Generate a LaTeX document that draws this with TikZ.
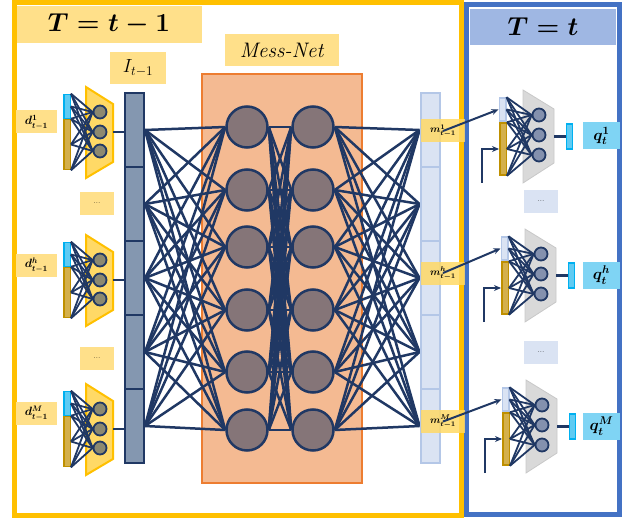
\RequirePackage{fix-cm}
\documentclass[tikz,border=0pt]{standalone}
\usepackage{amsmath}
\usepackage{amssymb}
\usepackage{tikz}
\usetikzlibrary{arrows.meta, positioning, backgrounds}

\definecolor{navy}{HTML}{203864}
\definecolor{framey}{HTML}{FFC000}
\definecolor{frameb}{HTML}{4472C4}
\definecolor{titley}{HTML}{FFE08A}
\definecolor{titleb}{HTML}{9FB7E3}
\definecolor{orangefill}{HTML}{F4BA92}
\definecolor{orangeline}{HTML}{ED7D31}
\definecolor{neurongray}{HTML}{857578}
\definecolor{lbarfill}{HTML}{8497B0}
\definecolor{rbarfill}{HTML}{DAE3F3}
\definecolor{rbarline}{HTML}{B4C7E7}
\definecolor{cyanfill}{HTML}{5FCBF3}
\definecolor{cyanline}{HTML}{00B0F0}
\definecolor{goldfill}{HTML}{D4B04C}
\definecolor{goldline}{HTML}{BF9000}
\definecolor{encyellow}{HTML}{FFD966}
\definecolor{encneuron}{HTML}{8C8970}
\definecolor{encgray}{HTML}{D9D9D9}
\definecolor{encgrayline}{HTML}{C8C8C8}
\definecolor{rneuron}{HTML}{8491AE}
\definecolor{qfill}{HTML}{7FD4F4}

\begin{document}
\begin{tikzpicture}[
    x=1pt, y=-1pt,
    label box/.style={rectangle, inner sep=0pt},
    big neuron/.style={circle, fill=neurongray, draw=navy, line width=2.5pt, minimum size=41pt, inner sep=0pt},
    small neuron/.style={circle, draw=navy, line width=1.8pt, minimum size=13pt, inner sep=0pt},
    bar seg/.style={rectangle, minimum width=19pt, minimum height=74pt, inner sep=0pt, line width=2pt},
    thin bar/.style={rectangle, line width=1.5pt, minimum width=6.5pt, inner sep=0pt},
    link/.style={draw=navy, line width=2.5pt},
    thin link/.style={draw=navy, line width=1.8pt},
    arrow/.style={-{Stealth[length=7pt,width=6pt]}, draw=navy, line width=2pt}
]
\useasboundingbox (0,0) rectangle (639,521);

% frames and titles
\draw[framey, line width=5pt] (14,3) rectangle (461,515);
\draw[frameb, line width=5pt] (466.5,5) rectangle (619.5,514.5);
\node[label box, fill=titley, minimum width=185pt, minimum height=37pt, font=\fontsize{26}{30}\selectfont] (tprev) at (109,24.5) {$\boldsymbol{T=t-1}$};
\node[label box, fill=titleb, minimum width=146pt, minimum height=36pt, font=\fontsize{26}{30}\selectfont] (tnow) at (543,27) {$\boldsymbol{T=t}$};
\node[label box, fill=titley, minimum width=56pt, minimum height=32pt, font=\fontsize{19}{21}\selectfont] (ilab) at (138,68) {$I_{t-1}$};
\node[label box, fill=titley, minimum width=114pt, minimum height=32pt, font=\fontsize{21}{24}\selectfont] (netlab) at (282,50) {\textit{Mess-Net}};

% Mess-Net
\begin{scope}[on background layer]
\draw[fill=orangefill, draw=orangeline, line width=2.5pt] (202,74) rectangle (362,483);
\end{scope}
\foreach \i/\y in {1/127,2/190,3/247,4/310,5/372,6/430} {
  \node[big neuron] (a\i) at (247,\y) {};
  \node[big neuron] (b\i) at (313,\y) {};
}
\foreach \i in {1,...,5} {
  \node[bar seg, fill=lbarfill, draw=navy] (l\i) at (134.5,{56+74*\i}) {};
  \node[bar seg, fill=rbarfill, draw=rbarline] (r\i) at (430,{56+74*\i}) {};
}
\begin{scope}[on background layer]
\foreach \i in {1,...,5} \foreach \j in {1,...,6} {
  \draw[link] (l\i.east) -- (a\j.west);
  \draw[link] (b\j.east) -- (r\i.west);
}
\foreach \i in {1,...,6} \foreach \j in {1,...,6}
  \draw[link] (a\i.east) -- (b\j.west);
\end{scope}

% encoders at T = t-1
\foreach \k/\dy/\ly/\idx/\s in {1/0/122/1/1, 2/148/265/h/3, 3/297/413/M/5} {
  \filldraw[fill=encyellow, draw=framey, line width=2pt] (86,{87+\dy}) -- (113,{104+\dy}) -- (113,{162+\dy}) -- (86,{178+\dy}) -- cycle;
  \node[small neuron, fill=encneuron] (p\k1) at (100,{112+\dy}) {};
  \node[small neuron, fill=encneuron] (p\k2) at (100,{132+\dy}) {};
  \node[small neuron, fill=encneuron] (p\k3) at (100,{151+\dy}) {};
  \node[thin bar, fill=cyanfill, draw=cyanline, minimum height=24pt] (cy\k) at (67,{106.5+\dy}) {};
  \node[thin bar, fill=goldfill, draw=goldline, minimum height=50pt] (gd\k) at (67,{144.5+\dy}) {};
  \foreach \a in {cy\k.north east, cy\k.east, gd\k.north east, gd\k.east, gd\k.south east}
    \foreach \n in {1,2,3}
      \draw[thin link] (\a) -- (p\k\n.west);
  \coordinate (eo\k) at (113,{132+\dy});
  \draw[link] (eo\k) -- (eo\k -| l\s.west);
  \node[label box, fill=titley, minimum width=41pt, minimum height=23pt, font=\fontsize{12}{14}\selectfont] (d\k) at (36.5,\ly) {$\boldsymbol{d^{\idx}_{t-1}}$};
}
\node[label box, fill=titley, minimum width=34pt, minimum height=23pt, font=\scriptsize] (ldots1) at (97,203.5) {...};
\node[label box, fill=titley, minimum width=34pt, minimum height=23pt, font=\scriptsize] (ldots2) at (97,358.5) {...};

% decoders at T = t
\foreach \k/\dx/\dy/\my/\idx in {1/0/0/131/1, 2/2/139/273/h, 3/3/290/421.5/M} {
  \filldraw[fill=encgray, draw=encgrayline, line width=0.8pt] ({523+\dx},{90+\dy}) -- ({554+\dx},{109+\dy}) -- ({554+\dx},{163+\dy}) -- ({523+\dx},{183+\dy}) -- cycle;
  \node[small neuron, fill=rneuron] (n\k1) at ({539+\dx},{115+\dy}) {};
  \node[small neuron, fill=rneuron] (n\k2) at ({539+\dx},{135+\dy}) {};
  \node[small neuron, fill=rneuron] (n\k3) at ({539+\dx},{155+\dy}) {};
  \node[thin bar, fill=rbarfill, draw=rbarline, minimum height=23pt] (rl\k) at ({502.5+\dx},{109.5+\dy}) {};
  \node[thin bar, fill=goldfill, draw=goldline, minimum height=52pt] (rg\k) at ({503+\dx},{149+\dy}) {};
  \foreach \a in {rl\k.north east, rl\k.east, rg\k.north east, rg\k.east, rg\k.south east}
    \foreach \n in {1,2,3}
      \draw[thin link] (\a) -- (n\k\n.west);
  \node[thin bar, fill=cyanfill, draw=cyanline, minimum width=6pt, minimum height=25pt] (rc\k) at ({569.5+\dx},{136.5+\dy}) {};
  \coordinate (ro\k) at ({554+\dx},{136.5+\dy});
  \draw[link] (ro\k) -- (rc\k.west);
  \node[label box, fill=qfill, minimum width=37pt, minimum height=27pt, font=\fontsize{16}{18}\selectfont] (q\k) at (601.5,{136+\dy}) {$\boldsymbol{q^{\idx}_t}$};
  \coordinate (in\k) at ({482+\dx},{183+\dy});
  \draw[arrow] (in\k) |- (rg\k.west);
  \node[label box, fill=encyellow, fill opacity=.85, text opacity=1, minimum width=44pt, minimum height=23pt, font=\fontsize{10}{12}\selectfont] (m\k) at (443,\my) {$\boldsymbol{m^{\idx}_{t-1}}$};
  \draw[arrow] (m\k.center) -- (rl\k.west);
}
\node[label box, fill=rbarfill, minimum width=34pt, minimum height=23pt, font=\scriptsize] (rdots1) at (541,201.5) {...};
\node[label box, fill=rbarfill, minimum width=34pt, minimum height=23pt, font=\scriptsize] (rdots2) at (541,352.5) {...};

\end{tikzpicture}
\end{document}
